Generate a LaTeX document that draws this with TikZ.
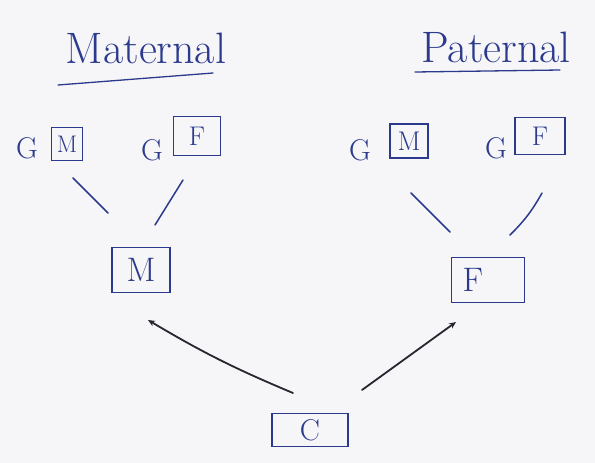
\documentclass[tikz,border=0pt]{standalone}
\usepackage{fontspec}
\usetikzlibrary{arrows.meta}
\definecolor{ink}{HTML}{2B3A8C}
\definecolor{pencil}{HTML}{262630}
\definecolor{paper}{HTML}{F6F6F8}
\begin{document}
\begin{tikzpicture}[x=1pt,y=-1pt,
  title/.style={text=ink,font=\fontsize{44}{48}\selectfont,inner sep=0pt},
  uline/.style={draw=ink,line width=1.3pt,line cap=round},
  gbox/.style={draw=ink,line width=1.6pt,text=ink,inner sep=0pt,font=\fontsize{27}{30}\selectfont},
  pbox/.style={gbox,font=\fontsize{34}{36}\selectfont},
  glet/.style={text=ink,inner sep=0pt,font=\fontsize{30}{32}\selectfont},
  tick/.style={draw=ink,line width=1.5pt,line cap=round},
  arr/.style={draw=pencil,line width=1.8pt,line cap=round,-{Stealth[length=7pt,width=6pt]}}]
\fill[paper] (0,0) rectangle (595,463);
\useasboundingbox (0,0) rectangle (595,463);
% titles
\node[title] (mat) at (146,48) {Maternal};
\node[title] (pat) at (496,47) {Paternal};
\coordinate (mu1) at (58,85); \coordinate (mu2) at (213,73);
\coordinate (pu1) at (415,72); \coordinate (pu2) at (560,70);
\draw[uline] (mu1) -- (mu2);
\draw[uline] (pu1) -- (pu2);
% grandparents, maternal side
\node[glet] (g1) at (27,148) {G};
\node[gbox,minimum width=31pt,minimum height=33pt,font=\fontsize{24}{26}\selectfont] (gm1) at (67,144) {M};
\node[glet] (g2) at (152,150) {G};
\node[gbox,minimum width=47pt,minimum height=39pt] (gf1) at (197,136) {F};
% grandparents, paternal side
\node[glet] (g3) at (360,150) {G};
\node[gbox,minimum width=38pt,minimum height=34pt] (gm2) at (409,141) {M};
\node[glet] (g4) at (496,148) {G};
\node[gbox,minimum width=50pt,minimum height=37pt] (gf2) at (540,136) {F};
% parents
\node[pbox,minimum width=58pt,minimum height=45pt] (m) at (141,270) {M};
\node[pbox,minimum width=73pt,minimum height=45pt] (f) at (488,280) {\makebox[51pt][l]{F}};
% child
\node[pbox,minimum width=76pt,minimum height=33pt,font=\fontsize{30}{32}\selectfont] (c) at (310,430) {C};
% ticks from grandparents to parents
\coordinate (t1a) at (73,178); \coordinate (t1b) at (108,213);
\coordinate (t2a) at (183,180); \coordinate (t2b) at (155,225);
\coordinate (t3a) at (411,193); \coordinate (t3b) at (450,232);
\coordinate (t4a) at (542,193); \coordinate (t4b) at (510,235);
\draw[tick] (t1a) -- (t1b);
\draw[tick] (t2a) -- (t2b);
\draw[tick] (t3a) -- (t3b);
\draw[tick] (t4a) to[bend left=8] (t4b);
% arrows from child to parents
\coordinate (a1s) at (293,393); \coordinate (a1e) at (148,320);
\coordinate (a2s) at (362,390); \coordinate (a2e) at (456,322);
\draw[arr] (a1s) to[bend left=4] (a1e);
\draw[arr] (a2s) -- (a2e);
\end{tikzpicture}
\end{document}
